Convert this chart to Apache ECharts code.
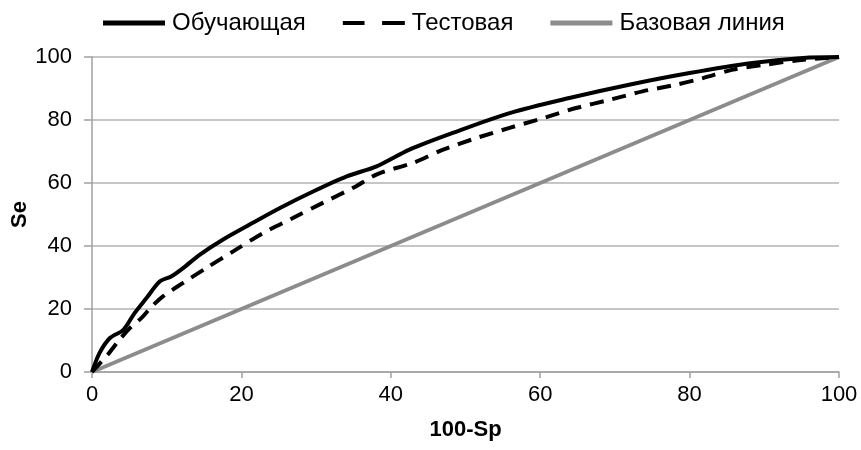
<!DOCTYPE html>
<html>
<head>
<meta charset="utf-8">
<script src="https://cdn.jsdelivr.net/npm/echarts@6/dist/echarts.min.js"></script>
<style>
  html, body { margin: 0; padding: 0; background: #fff; }
  #chart { width: 861px; height: 450px; }
</style>
</head>
<body>
<div id="chart"></div>
<script>
// Обучающая (training) ROC: [100-Sp, Se]
var trainX = [0, 1.0, 2.4, 4.2, 5.7, 7.3, 9.1, 10.6, 12.2, 14.4, 17.5, 21.1, 25.1, 29.6, 34.1, 38.1, 42.5, 48.3, 55.9, 63.9, 71.9, 80.0, 88.4, 95.2, 100];
var trainY = [0, 6.0, 10.8, 13.4, 18.7, 23.5, 28.8, 30.3, 33.0, 37.2, 42.0, 46.8, 52.0, 57.3, 62.1, 65.3, 70.6, 75.9, 82.2, 87.0, 91.2, 94.9, 98.1, 99.7, 100];
// Тестовая (test) ROC
var testX = [0, 2.1, 3.7, 5.1, 6.6, 8.0, 9.5, 12.2, 15.3, 18.9, 22.9, 26.9, 30.9, 34.9, 38.3, 43.0, 47.0, 51.5, 55.9, 60.4, 64.8, 69.3, 73.7, 78.2, 81.8, 85.8, 90.3, 94.3, 100];
var testY = [0, 5.5, 10.3, 14.0, 17.1, 20.8, 24.0, 28.3, 33.0, 38.3, 44.1, 48.9, 53.7, 58.4, 62.9, 66.4, 70.6, 74.3, 77.5, 80.6, 83.8, 86.4, 89.1, 91.2, 93.3, 96.0, 97.6, 98.9, 100];
// Базовая линия (baseline)
var baseX = [0, 100];
var baseY = [0, 100];

function pairs(xs, ys) {
  return xs.map(function (x, i) { return [x, ys[i]]; });
}

var font = "Liberation Sans, Arial, sans-serif";

echarts.init(document.querySelector("#chart")).setOption({
  animation: false,
  textStyle: { fontFamily: font },
  legend: {
    top: 6,
    left: 98,
    itemWidth: 62,
    itemHeight: 5,
    itemGap: 37,
    textStyle: { fontSize: 24, color: "#000", fontFamily: font, padding: [0, 0, 0, 2] },
    data: [
      { name: "Обучающая", icon: "rect", itemStyle: { color: "#000" } },
      { name: "Тестовая", icon: "path://M0,0H21V4H0Z M38,0H60V4H38Z", itemStyle: { color: "#000" } },
      { name: "Базовая линия", icon: "rect", itemStyle: { color: "#8c8c8c" } }
    ]
  },
  grid: { left: 92, right: 22, top: 57, bottom: 78, outerBoundsMode: "none", containLabel: false },
  xAxis: {
    type: "value",
    min: 0,
    max: 100,
    interval: 20,
    name: "100-Sp",
    nameLocation: "middle",
    nameGap: 47,
    nameMoveOverlap: false,
    nameTextStyle: { fontSize: 22, fontWeight: "bold", color: "#000" },
    axisLine: { lineStyle: { color: "#a0a0a0", width: 1.5 } },
    axisTick: { show: true, length: 6, lineStyle: { color: "#a0a0a0", width: 1.5 } },
    axisLabel: { fontSize: 22, color: "#000", margin: 12 },
    splitLine: { show: false }
  },
  yAxis: {
    type: "value",
    min: 0,
    max: 100,
    interval: 20,
    name: "Se",
    nameLocation: "middle",
    nameGap: 61,
    nameMoveOverlap: false,
    nameTextStyle: { fontSize: 22, fontWeight: "bold", color: "#000" },
    axisLine: { show: true, lineStyle: { color: "#a0a0a0", width: 1.5 } },
    axisTick: { show: true, length: 8, lineStyle: { color: "#a0a0a0", width: 1.5 } },
    axisLabel: { fontSize: 22, color: "#000", margin: 20 },
    splitLine: { lineStyle: { color: "#b3b3b3", width: 1.5 } }
  },
  series: [
    {
      name: "Базовая линия",
      type: "line",
      data: pairs(baseX, baseY),
      symbol: "none",
      color: "#8c8c8c",
      lineStyle: { color: "#8c8c8c", width: 4 },
      z: 1
    },
    {
      name: "Тестовая",
      type: "line",
      data: pairs(testX, testY),
      symbol: "none",
      smooth: 0.3,
      color: "#000",
      lineStyle: { color: "#000", width: 4, type: [14, 9] },
      z: 2
    },
    {
      name: "Обучающая",
      type: "line",
      data: pairs(trainX, trainY),
      symbol: "none",
      smooth: 0.3,
      color: "#000",
      lineStyle: { color: "#000", width: 4 },
      z: 3
    }
  ]
});
</script>
</body>
</html>
